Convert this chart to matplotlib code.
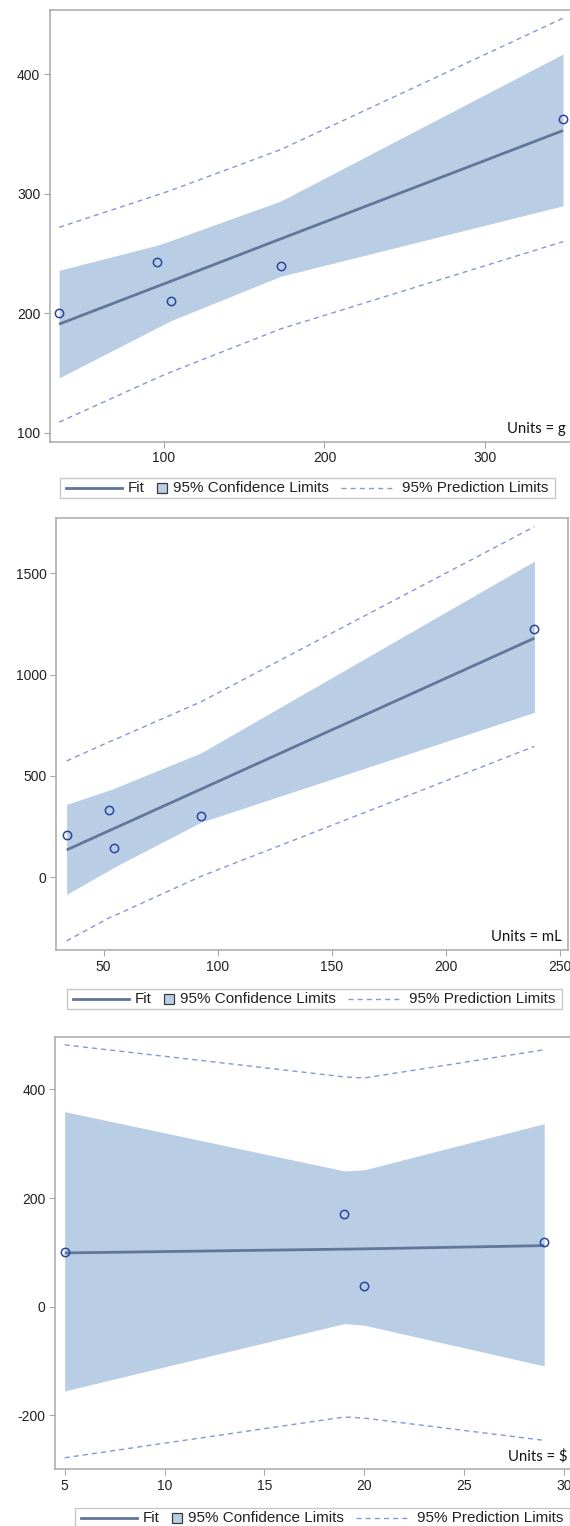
import matplotlib
matplotlib.use("Agg")
import matplotlib.pyplot as plt
from matplotlib.lines import Line2D
from matplotlib.patches import Rectangle
from matplotlib.offsetbox import AnchoredOffsetbox, HPacker, DrawingArea, TextArea

plt.rcParams['font.family'] = ['Liberation Sans', 'DejaVu Sans']
plt.rcParams['axes.unicode_minus'] = False

# weight (g)
x_g = [34.7, 95.7, 104.5, 172.7, 348.6]
y_g = [200, 243, 210, 240, 363]
fit_g = [191, 222.5, 227, 262.3, 353]
cl_lo_g = [146, 188, 194, 231, 290]
cl_hi_g = [236, 257, 261, 294, 417]
pl_lo_g = [109, 146, 151, 187, 260]
pl_hi_g = [272, 299, 303, 337, 447]

# volume (mL)
x_ml = [33.8, 52.4, 54.6, 92.7, 238.8]
y_ml = [209, 332, 146, 304, 1223]
fit_ml = [135, 230, 241, 435, 1180]
cl_lo_ml = [-84, 35, 50, 272, 814]
cl_hi_ml = [360, 430, 439, 614, 1560]
pl_lo_ml = [-314, -200, -190, 5, 646]
pl_hi_ml = [574, 668, 678, 866, 1730]

# price ($)
x_usd = [5, 19, 20, 29]
y_usd = [100, 170, 38, 119]
fit_usd = [99, 106, 106.5, 112.5]
cl_lo_usd = [-155, -31, -34, -109]
cl_hi_usd = [359, 250, 252, 337]
pl_lo_usd = [-278, -203, -205, -246]
pl_hi_usd = [482, 423, 421, 473]

units = ["g", "mL", "$"]
xticks = [[100, 200, 300], [50, 100, 150, 200, 250], [5, 10, 15, 20, 25, 30]]
yticks = [[100, 200, 300, 400], [0, 500, 1000, 1500], [-200, 0, 200, 400]]

BAND = "#b9cde5"
FIT = "#5f7799"
PRED = "#8796d8"
MARK = "#2c469c"
FRAME = "#a8a8a8"

W, H = 570, 1526
fig = plt.figure(figsize=(W / 100, H / 100), dpi=100)

# axes boxes in pixels: left, right, top, bottom
boxes = [(50, 572, 10.3, 441.7), (56.4, 568, 518, 950), (55.3, 573, 1036.7, 1469)]
xlims = [(29.0, 354.2), (29.3, 253.5), (4.53, 30.44)]
ylims = [(92.6, 453.6), (-358.7, 1772.6), (-298.7, 497)]
legend_pos = [(307.5, 488), (314.5, 999), (322.5, 1518)]

panels = [
    (x_g, y_g, fit_g, cl_lo_g, cl_hi_g, pl_lo_g, pl_hi_g),
    (x_ml, y_ml, fit_ml, cl_lo_ml, cl_hi_ml, pl_lo_ml, pl_hi_ml),
    (x_usd, y_usd, fit_usd, cl_lo_usd, cl_hi_usd, pl_lo_usd, pl_hi_usd),
]

PT = 0.72  # points per pixel at 100 dpi


def make_legend():
    h = 20 * PT
    da_fit = DrawingArea(68 * PT, h, 0, 0)
    da_fit.add_artist(Line2D([6 * PT, 62 * PT], [h / 2, h / 2], color=FIT, lw=2.0))
    da_sq = DrawingArea(28 * PT, h, 0, 0)
    s = 10 * PT
    da_sq.add_artist(Rectangle((12 * PT, (h - s) / 2), s, s, facecolor=BAND,
                               edgecolor="#3a3a3a", lw=0.9))
    da_dash = DrawingArea(73 * PT, h, 0, 0)
    da_dash.add_artist(Line2D([12 * PT, 63 * PT], [h / 2, h / 2], color=PRED, lw=1.0,
                              dashes=(3.6, 3.0)))
    tp = dict(color="#222222", fontsize=11, family=['Liberation Sans', 'DejaVu Sans'])
    tail = DrawingArea(7 * PT, h, 0, 0)
    return HPacker(children=[da_fit, TextArea("Fit", textprops=tp), da_sq,
                             TextArea("95% Confidence Limits", textprops=tp), da_dash,
                             TextArea("95% Prediction Limits", textprops=tp), tail],
                   align="center", pad=0, sep=0)


for i, (xs, ys, fit, clo, chi, plo, phi) in enumerate(panels):
    l, r, t, b = boxes[i]
    ax = fig.add_axes([l / W, 1 - b / H, (r - l) / W, (b - t) / H])
    ax.fill_between(xs, clo, chi, color=BAND, lw=0, zorder=1)
    ax.plot(xs, plo, color=PRED, lw=1.0, dashes=(3.6, 3.0), zorder=2)
    ax.plot(xs, phi, color=PRED, lw=1.0, dashes=(3.6, 3.0), zorder=2)
    ax.plot(xs, fit, color=FIT, lw=2.0, zorder=3, solid_capstyle="butt")
    ax.plot(xs, ys, "o", ms=6, mfc="none", mec=MARK, mew=1.1, zorder=4)

    ax.set_xlim(*xlims[i])
    ax.set_ylim(*ylims[i])
    ax.set_xticks(xticks[i])
    ax.set_yticks(yticks[i])
    for sp in ax.spines.values():
        sp.set_color(FRAME)
        sp.set_linewidth(1.1)
    ax.tick_params(direction="out", length=4, width=0.8, color=FRAME,
                   labelsize=10, labelcolor="#222222", pad=3)

    ax.annotate("Units = " + units[i], xy=(1, 0), xycoords="axes fraction",
                xytext=(-6, 9), textcoords="offset pixels", ha="right", va="baseline",
                fontsize=10.7, family=["Lato", "DejaVu Sans"], color="#111111")

    cx, cy = legend_pos[i]
    leg = AnchoredOffsetbox(loc="center", child=make_legend(), pad=0, borderpad=0,
                            frameon=True, bbox_to_anchor=(cx / W, 1 - cy / H),
                            bbox_transform=fig.transFigure)
    leg.patch.set_edgecolor("#c8c8c8")
    leg.patch.set_linewidth(1.0)
    leg.patch.set_boxstyle("square", pad=0)
    fig.add_artist(leg)

fig.savefig("out.png", dpi=100)
